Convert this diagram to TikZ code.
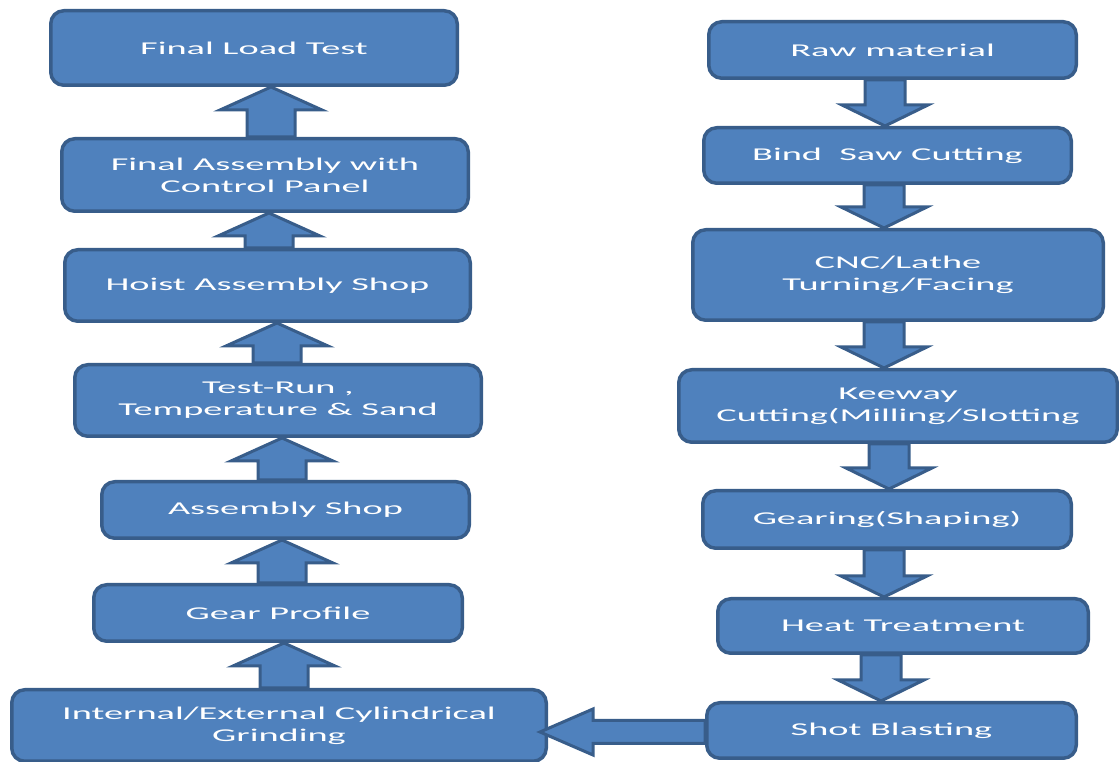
\documentclass[tikz,border=0pt]{standalone}
\usepackage{fontspec}
\newfontfamily\boxfont[FakeStretch=2.13]{Carlito}
\usetikzlibrary{calc}
\definecolor{boxfill}{HTML}{4F81BD}
\definecolor{boxline}{HTML}{385D8A}
\tikzset{
  stage/.style={draw=boxline, fill=boxfill, line width=3.5pt, rounded corners=13pt,
    text=white, align=center, inner sep=0pt, font=\boxfont\fontsize{18}{22}\selectfont},
  blockarr/.style={draw=boxline, fill=boxfill, line width=3pt, line join=miter}
}
% block arrows: #1 = x (or y), #2 = from node, #3 = to node
\newcommand\arrup[3]{%
  \draw[blockarr] let \p1=(#2.north), \p2=(#3.south) in
    ({#1pt-24pt},\y1) -- ({#1pt-24pt},{\y2-23pt}) -- ({#1pt-51pt},{\y2-23pt}) -- (#1pt,\y2)
    -- ({#1pt+51pt},{\y2-23pt}) -- ({#1pt+24pt},{\y2-23pt}) -- ({#1pt+24pt},\y1) -- cycle;}
\newcommand\arrdown[3]{%
  \draw[blockarr] let \p1=(#2.south), \p2=(#3.north) in
    ({#1pt-20pt},\y1) -- ({#1pt-20pt},{\y2+21pt}) -- ({#1pt-43pt},{\y2+21pt}) -- (#1pt,\y2)
    -- ({#1pt+43pt},{\y2+21pt}) -- ({#1pt+20pt},{\y2+21pt}) -- ({#1pt+20pt},\y1) -- cycle;}
\newcommand\arrleft[3]{%
  \draw[blockarr] let \p1=(#2.west), \p2=(#3.east) in
    (\x1,{#1pt+11.5pt}) -- ({\x2+45pt},{#1pt+11.5pt}) -- ({\x2+45pt},{#1pt+23pt}) -- ({\x2-8pt},#1pt)
    -- ({\x2+45pt},{#1pt-23pt}) -- ({\x2+45pt},{#1pt-11.5pt}) -- (\x1,{#1pt-11.5pt}) -- cycle;}

\begin{document}
\begin{tikzpicture}[x=1pt,y=1pt]
\useasboundingbox (0,0) rectangle (1119,762);

% assembly side
\node[stage, minimum width=406.5pt, minimum height=74.5pt] (fl) at (254,714) {Final Load Test};
\node[stage, minimum width=406.5pt, minimum height=72.5pt] (fa) at (265,587) {Final Assembly with\\Control Panel};
\node[stage, minimum width=405.5pt, minimum height=71.5pt] (ha) at (267.5,476.5) {Hoist Assembly Shop};
\node[stage, minimum width=406.5pt, minimum height=71.5pt] (tr) at (278,361.5) {Test-Run ,\\Temperature \& Sand};
\node[stage, minimum width=367.5pt, minimum height=56.5pt] (as) at (285.5,252) {Assembly Shop};
\node[stage, minimum width=368.5pt, minimum height=56.5pt] (gp) at (278,149) {Gear Profile};
\node[stage, minimum width=534.5pt, minimum height=71.5pt] (ig) at (279,36.5) {Internal/External Cylindrical\\Grinding};

% machining side
\node[stage, minimum width=367.5pt, minimum height=56.5pt] (rm) at (892.5,712) {Raw material};
\node[stage, minimum width=367.5pt, minimum height=55.5pt] (bs) at (887.5,606.5) {Bind\ \ Saw Cutting};
\node[stage, minimum width=410.5pt, minimum height=90.5pt] (cn) at (898,487) {CNC/Lathe\\Turning/Facing};
\node[stage, minimum width=438.5pt, minimum height=72.5pt] (kc) at (898,356) {Keeway\\Cutting(Milling/Slotting};
\node[stage, minimum width=368.5pt, minimum height=57.5pt] (gs) at (887,242.5) {Gearing(Shaping)};
\node[stage, minimum width=370.5pt, minimum height=54.5pt] (ht) at (903,136) {Heat Treatment};
\node[stage, minimum width=369.5pt, minimum height=55.5pt] (sb) at (891.5,31.5) {Shot Blasting};

\arrup{271}{fa}{fl}
\arrup{269}{ha}{fa}
\arrup{277}{tr}{ha}
\arrup{282}{as}{tr}
\arrup{282}{gp}{as}
\arrup{284}{ig}{gp}

\arrdown{885}{rm}{bs}
\arrdown{884}{bs}{cn}
\arrdown{884}{cn}{kc}
\arrdown{889}{kc}{gs}
\arrdown{884}{gs}{ht}
\arrdown{881}{ht}{sb}

\arrleft{30}{sb}{ig}
\end{tikzpicture}
\end{document}
